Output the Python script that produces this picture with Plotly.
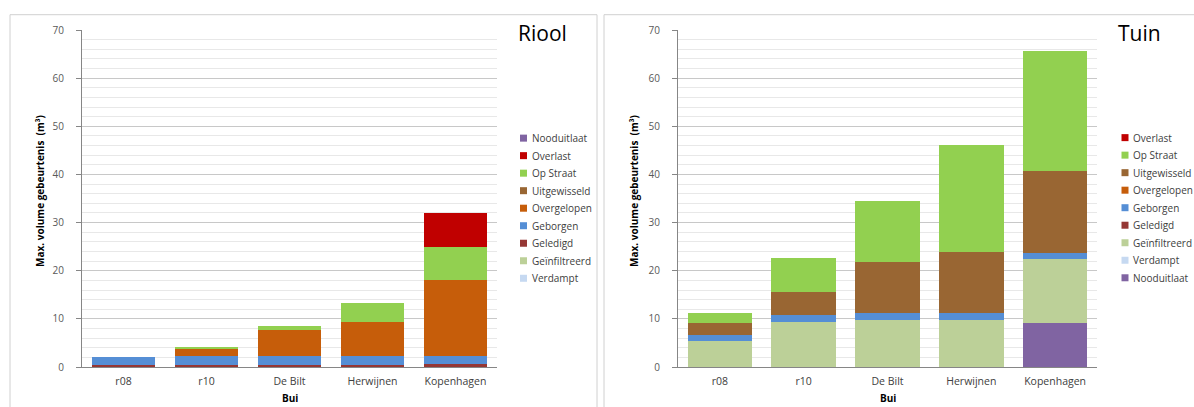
import plotly.graph_objects as go

W, H = 1194, 407

categories = ["r08", "r10", "De Bilt", "Herwijnen", "Kopenhagen"]

# Riool: segment heights per bui (m3), stacked bottom to top
riool_verdampt = [0, 0, 0, 0, 0]
riool_geinfiltreerd = [0, 0, 0, 0, 0]
riool_geledigd = [0.4, 0.4, 0.4, 0.4, 0.6]
riool_geborgen = [1.7, 1.8, 1.9, 1.8, 1.8]
riool_overgelopen = [0, 1.6, 5.5, 7.2, 15.6]
riool_uitgewisseld = [0, 0, 0, 0, 0]
riool_op_straat = [0, 0.3, 0.8, 3.9, 7.0]
riool_overlast = [0, 0, 0, 0, 7.0]
riool_nooduitlaat = [0, 0, 0, 0, 0]

# Tuin: segment heights per bui (m3), stacked bottom to top
tuin_nooduitlaat = [0, 0, 0, 0, 9.1]
tuin_verdampt = [0, 0, 0, 0, 0]
tuin_geinfiltreerd = [5.5, 9.45, 9.85, 9.85, 13.3]
tuin_geledigd = [0, 0, 0, 0, 0]
tuin_geborgen = [1.25, 1.35, 1.35, 1.35, 1.2]
tuin_overgelopen = [0, 0, 0, 0, 0]
tuin_uitgewisseld = [2.45, 4.7, 10.6, 12.6, 17.1]
tuin_op_straat = [2.1, 7.2, 12.6, 22.4, 24.9]
tuin_overlast = [0, 0, 0, 0, 0]

colors = {
    "Nooduitlaat": "#8064A2",
    "Overlast": "#C00000",
    "Op Straat": "#92D050",
    "Uitgewisseld": "#996633",
    "Overgelopen": "#C65D0A",
    "Geborgen": "#558ED5",
    "Geledigd": "#953735",
    "Geïnfiltreerd": "#BCD098",
    "Verdampt": "#C6D9F1",
}

riool_series = [
    ("Verdampt", riool_verdampt),
    ("Geïnfiltreerd", riool_geinfiltreerd),
    ("Geledigd", riool_geledigd),
    ("Geborgen", riool_geborgen),
    ("Overgelopen", riool_overgelopen),
    ("Uitgewisseld", riool_uitgewisseld),
    ("Op Straat", riool_op_straat),
    ("Overlast", riool_overlast),
    ("Nooduitlaat", riool_nooduitlaat),
]
tuin_series = [
    ("Nooduitlaat", tuin_nooduitlaat),
    ("Verdampt", tuin_verdampt),
    ("Geïnfiltreerd", tuin_geinfiltreerd),
    ("Geledigd", tuin_geledigd),
    ("Geborgen", tuin_geborgen),
    ("Overgelopen", tuin_overgelopen),
    ("Uitgewisseld", tuin_uitgewisseld),
    ("Op Straat", tuin_op_straat),
    ("Overlast", tuin_overlast),
]

FONT = "Open Sans"
TXT = "#404040"

fig = go.Figure()
for name, vals in riool_series:
    fig.add_trace(go.Bar(x=categories, y=vals, name=name, marker_color=colors[name],
                         marker_line_width=0, xaxis="x", yaxis="y", showlegend=False))
for name, vals in tuin_series:
    fig.add_trace(go.Bar(x=categories, y=vals, name=name, marker_color=colors[name],
                         marker_line_width=0, xaxis="x2", yaxis="y2", showlegend=False))

# pixel -> paper helpers (vertical placement uses an offset/scale for the page layout)
Y_OFF, Y_SPAN = 7.3, 393.6


def px(x):
    return x / W


def py(y):
    return 1 - (y - Y_OFF) / Y_SPAN


ydom = [py(367), py(30.3)]
yaxis_style = dict(
    range=[0, 70], dtick=10, showline=True, linecolor="#868686", linewidth=1,
    ticks="outside", ticklen=5, tickcolor="#868686", ticklabelstandoff=10,
    tickfont=dict(family=FONT, size=10, color="#595959"),
    showgrid=True, gridcolor="#C8C8C8", gridwidth=1, zeroline=False,
    minor=dict(dtick=2, showgrid=True, gridcolor="#E8E8E8", gridwidth=1, ticks=""),
    domain=ydom, fixedrange=True,
)
xaxis_style = dict(
    showline=True, linecolor="#868686", linewidth=1, ticks="",
    tickfont=dict(family=FONT, size=10.5, color="#404040"), fixedrange=True,
    ticklabelstandoff=4,
)

fig.update_layout(
    width=W, height=H, margin=dict(l=0, r=0, t=0, b=0),
    paper_bgcolor="white", plot_bgcolor="white",
    barmode="stack", bargap=0.23, showlegend=False,
    xaxis=dict(domain=[px(82), px(497)], anchor="y", **xaxis_style),
    yaxis=dict(anchor="x", **yaxis_style),
    xaxis2=dict(domain=[px(678), px(1097)], anchor="y2", **xaxis_style),
    yaxis2=dict(anchor="x2", **yaxis_style),
)

shapes = []
annotations = []

# Panel borders
for x0, x1 in [(10, 597), (604, 1200)]:
    shapes.append(dict(type="rect", xref="paper", yref="paper",
                       x0=px(x0), x1=px(x1), y0=-0.05, y1=py(15),
                       line=dict(color="#D0D0D0", width=1), fillcolor="rgba(0,0,0,0)",
                       layer="below"))

# Panel titles
annotations.append(dict(text="Riool", x=px(516), y=py(33), xref="paper", yref="paper",
                        xanchor="left", yanchor="middle", showarrow=False,
                        font=dict(family=FONT, size=21, color="#000000")))
annotations.append(dict(text="Tuin", x=px(1116), y=py(33), xref="paper", yref="paper",
                        xanchor="left", yanchor="middle", showarrow=False,
                        font=dict(family=FONT, size=21, color="#000000")))

# Axis titles
for xc, bx in [(40, 289.5), (634, 887.5)]:
    annotations.append(dict(text="Max. volume gebeurtenis  (m³)", x=px(xc), y=py(191),
                            xref="paper", yref="paper", textangle=-90, showarrow=False,
                            xanchor="center", yanchor="middle",
                            font=dict(family=FONT, size=10, color="#000000", weight="bold")))
    annotations.append(dict(text="Bui", x=px(bx), y=py(397.5), xref="paper", yref="paper",
                            showarrow=False, xanchor="center", yanchor="middle",
                            font=dict(family=FONT, size=10, color="#000000", weight="bold")))

# Legends (entries listed top to bottom)
legend_blocks = [
    ([n for n, _ in reversed(riool_series)], 520, 138.3),
    ([n for n, _ in reversed(tuin_series)], 1121.5, 137.8),
]
step = 17.5
for names, x0, y0 in legend_blocks:
    for i, name in enumerate(names):
        yc = y0 + i * step
        shapes.append(dict(type="rect", xref="paper", yref="paper",
                           x0=px(x0), x1=px(x0 + 7), y0=py(yc + 3.5), y1=py(yc - 3.5),
                           fillcolor=colors[name], line=dict(width=0)))
        annotations.append(dict(text=name, x=px(x0 + 9.5), y=py(yc), xref="paper",
                                yref="paper", xanchor="left", yanchor="middle",
                                showarrow=False,
                                font=dict(family=FONT, size=10, color=TXT)))

fig.update_layout(shapes=shapes, annotations=annotations)
fig.write_html("out.html")
